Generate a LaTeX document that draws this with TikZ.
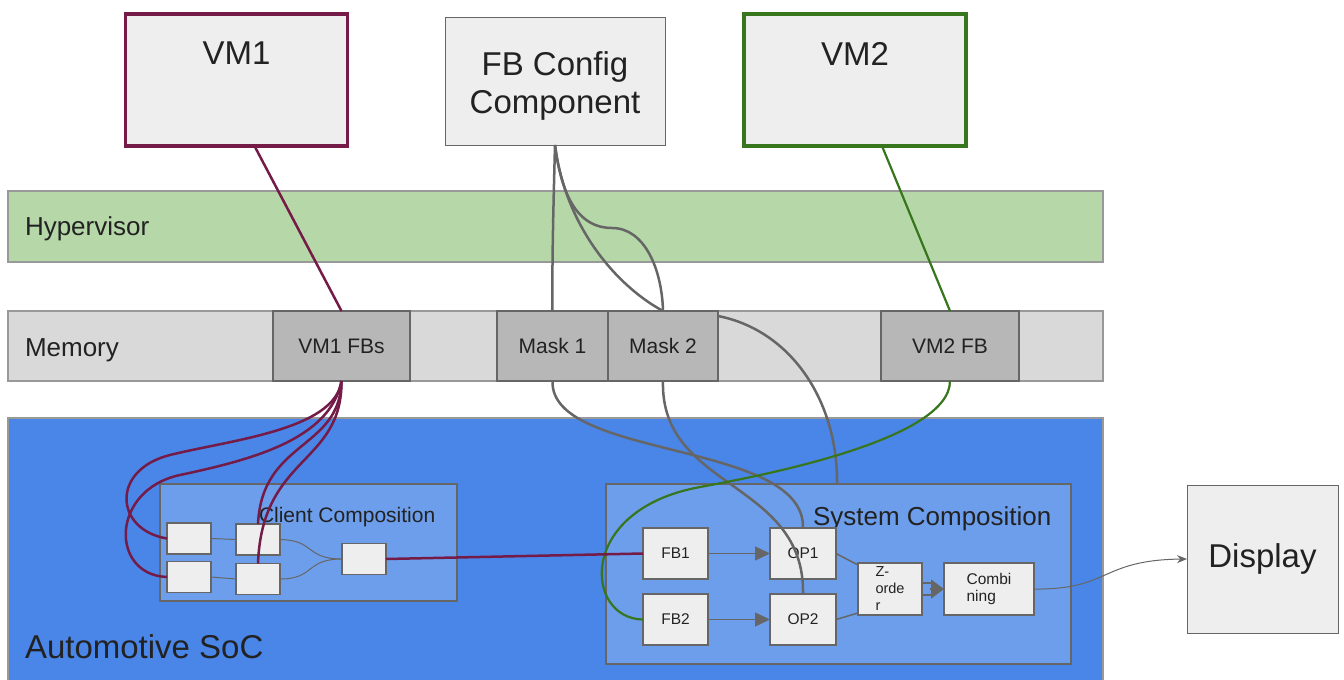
\documentclass[tikz,border=0pt]{standalone}
\usepackage{fontspec}
\setmainfont{Liberation Sans}
\usetikzlibrary{arrows.meta}

\begin{document}
\begin{tikzpicture}[x=1pt,y=-1pt,
  base/.style={inner sep=0pt,outer sep=0pt,text=textColor},
  topbox/.style={base,draw=lineColor,fill=boxColor,line width=1pt,minimum width=222pt,minimum height=132pt},
  vmbox/.style={topbox,line width=3.5pt,label={[base,anchor=north,yshift=-28pt,font=\fontsize{33}{38}\selectfont]north:#1}},
  layer/.style={base,draw=layerLine,line width=1.5pt,minimum width=1095pt,minimum height=70pt},
  layertext/.style={base,anchor=base west,font=\fontsize{26}{30}\selectfont},
  memseg/.style={base,draw=lineColor,fill=segColor,line width=1.2pt,minimum height=70pt,font=\fontsize{21}{24}\selectfont},
  compbox/.style={base,draw=lineColor,fill=compColor,line width=1.2pt},
  cell/.style={base,draw=lineColor,fill=boxColor,line width=1.2pt,minimum width=44pt,minimum height=31pt},
  stage/.style={base,draw=lineColor,fill=boxColor,line width=1.2pt,minimum width=65pt,minimum height=51pt,font=\fontsize{15.5}{18}\selectfont},
  vmonelink/.style={draw=vmoneColor,line width=2.5pt},
  vmtwolink/.style={draw=vmtwoColor,line width=2.2pt},
  masklink/.style={draw=linkColor,line width=2.5pt},
  flow/.style={draw=linkColor,line width=1.5pt},
  thinflow/.style={draw=linkColor,line width=1pt},
  stagearrow/.style={flow,-{Triangle[length=15pt,width=14pt]}}
]
\definecolor{textColor}{RGB}{34,34,34}
\definecolor{lineColor}{RGB}{102,102,102}
\definecolor{layerLine}{RGB}{153,153,153}
\definecolor{boxColor}{RGB}{238,238,238}
\definecolor{hypColor}{RGB}{182,215,168}
\definecolor{memColor}{RGB}{217,217,217}
\definecolor{segColor}{RGB}{183,183,183}
\definecolor{socColor}{RGB}{74,134,232}
\definecolor{compColor}{RGB}{109,158,235}
\definecolor{vmoneColor}{RGB}{116,27,71}
\definecolor{vmtwoColor}{RGB}{56,118,29}
\definecolor{linkColor}{RGB}{102,102,102}

\path[use as bounding box,fill=white] (0,0) rectangle (1344,680);

\node[vmbox=VM1,draw=vmoneColor] (vmone) at (236.5,80) {};

\node[topbox,minimum width=220pt,minimum height=128pt,label={[base,anchor=center,yshift=-5pt,align=center,font=\fontsize{33}{38}\selectfont]center:FB Config\\Component}] (fbcfg) at (555,81) {};

\node[vmbox=VM2,draw=vmtwoColor] (vmtwo) at (855,80) {};

\node[layer,fill=hypColor,minimum height=71pt] (hyp) at (555.5,226.5) {};

\node[layertext] (hyptext) at (25,235) {Hypervisor};

\node[layer,fill=memColor] (mem) at (555.5,346) {};

\node[layertext] (memtext) at (25,356) {Memory};

\node[memseg,minimum width=137pt] (vmonefb) at (341.5,346) {VM1 FBs};

\node[memseg,minimum width=111pt] (maskone) at (552.5,346) {Mask 1};

\node[memseg,minimum width=110pt] (masktwo) at (663,346) {Mask 2};

\node[memseg,minimum width=138pt] (vmtwofb) at (950,346) {VM2 FB};

\node[layer,fill=socColor,minimum height=284pt] (soc) at (555.5,560) {};

\node[base,anchor=base west,font=\fontsize{33}{38}\selectfont] (soctext) at (25,658) {Automotive SoC};

\node[compbox,minimum width=297pt,minimum height=117pt] (client) at (308.5,542.5) {};

\node[base,anchor=base west,font=\fontsize{21}{24}\selectfont] (clienttext) at (259,522) {Client Composition};

\node[cell] (cA) at (189,538.5) {};

\node[cell] (cB) at (258,539.5) {};

\node[cell] (cC) at (189,577) {};

\node[cell] (cD) at (258,579) {};

\node[cell] (cout) at (364,559) {};

\node[compbox,minimum width=465pt,minimum height=180pt] (system) at (838.5,574) {};

\node[base,anchor=base west,font=\fontsize{26}{30}\selectfont] (systemtext) at (813,525) {System Composition};

\node[stage] (fbone) at (675.5,553.5) {FB1};

\node[stage] (fbtwo) at (675.5,619.5) {FB2};

\node[stage,minimum width=66pt] (opone) at (803,553.5) {OP1};

\node[stage,minimum width=66pt] (optwo) at (803,619.5) {OP2};

\node[stage,minimum width=64pt,minimum height=52pt,align=left,font=\fontsize{14.5}{17}\selectfont] (zorder) at (890,589) {Z-\\orde\\r};

\node[stage,minimum width=90pt,minimum height=52pt,align=left,font=\fontsize{15.5}{17}\selectfont] (combining) at (989,589) {Combi\\ning};

\node[topbox,minimum width=151pt,minimum height=148pt,font=\fontsize{33}{38}\selectfont] (display) at (1262.5,559) {Display};

\coordinate (sysin) at (837,484);

\draw[vmonelink] ([xshift=18pt]vmone.south) -- (vmonefb.north);

\draw[vmtwolink] ([xshift=27pt]vmtwo.south) -- (vmtwofb.north);

\draw[masklink] (fbcfg.south) .. controls (553,220) and (552,270) .. (maskone.north);

\draw[masklink] (fbcfg.south) .. controls (565,225) and (615,285) .. (masktwo.north);

\draw[masklink] (fbcfg.south) .. controls (562,200) and (580,228) .. (612,228) .. controls (645,228) and (662,270) .. (masktwo.north);

\draw[masklink] ([yshift=-5pt]masktwo.north east) .. controls (790,330) and (838,400) .. (sysin);

\draw[masklink] (maskone.south) .. controls (550,460) and (805,440) .. (opone.north);

\draw[masklink] (masktwo.south) .. controls (660,490) and (805,480) .. (optwo.north);

\draw[vmtwolink] (vmtwofb.south) .. controls (950,440) and (760,476) .. (700,487) .. controls (575,510) and (585,619) .. (fbtwo.west);

\draw[thinflow] (cA.east) -- (cB.west);

\draw[thinflow] (cC.east) -- (cD.west);

\draw[thinflow] (cB.east) .. controls (315,540) and (305,559) .. (cout.west);

\draw[thinflow] (cD.east) .. controls (315,579) and (305,559) .. (cout.west);

\draw[vmonelink] (vmonefb.south) .. controls (335,430) and (230,440) .. (170,455) .. controls (110,470) and (115,530) .. (cA.west);

\draw[vmonelink] (vmonefb.south) .. controls (330,440) and (250,460) .. (180,475) .. controls (110,490) and (110,575) .. (cC.west);

\draw[vmonelink] (vmonefb.south) .. controls (340,450) and (262,440) .. (cB.north);

\draw[vmonelink] (vmonefb.south) .. controls (342,465) and (262,455) .. (cD.north);

\draw[vmonelink] (cout.east) -- (fbone.west);

\draw[stagearrow] (fbone) -- (opone);

\draw[stagearrow] (fbtwo) -- (optwo);

\draw[flow] (opone.east) -- ([yshift=-2pt]zorder.north west);

\draw[flow] (optwo.east) -- ([yshift=2pt]zorder.south west);

\draw[flow] ([yshift=6pt]zorder.east) -- ([xshift=-12pt,yshift=6pt]combining.west);

\draw[flow] ([yshift=-6pt]zorder.east) -- ([xshift=-12pt,yshift=-6pt]combining.west);

\draw[flow,-{Triangle[length=13pt,width=19pt]}] ([xshift=-14pt]combining.west) -- (combining.west);

\draw[thinflow,-{Stealth[length=10pt,width=8pt]}] (combining.east) .. controls (1110,590) and (1100,560) .. (display.west);
\end{tikzpicture}
\end{document}
